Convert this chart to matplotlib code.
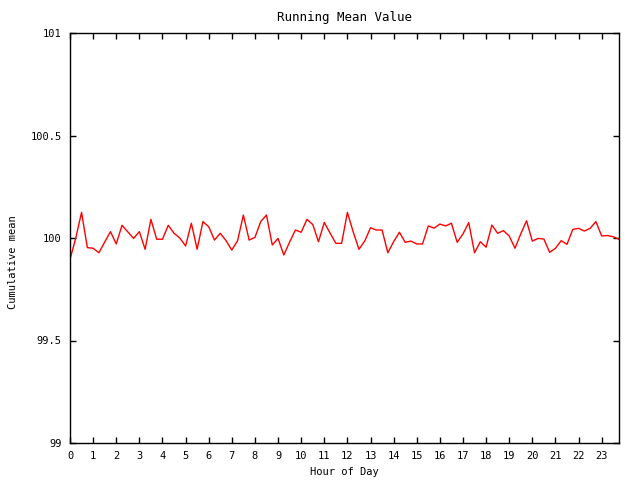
import numpy as np
import matplotlib
matplotlib.use("Agg")
import matplotlib.pyplot as plt

# quarter-hour samples of the running mean
hours = np.arange(96) * 0.25
running_mean = [
    99.896, 100.000, 100.125, 99.953, 99.950, 99.928, 99.980, 100.031,
    99.971, 100.062, 100.030, 99.998, 100.031, 99.945, 100.091, 99.994,
    99.994, 100.062, 100.023, 100.000, 99.961, 100.072, 99.945, 100.080,
    100.055, 99.990, 100.023, 99.987, 99.941, 99.987, 100.112, 99.990,
    100.003, 100.080, 100.112, 99.966, 99.998, 99.917, 99.980, 100.039,
    100.028, 100.091, 100.066, 99.982, 100.076, 100.024, 99.974, 99.974,
    100.125, 100.030, 99.945, 99.985, 100.050, 100.039, 100.039, 99.928,
    99.982, 100.028, 99.979, 99.985, 99.971, 99.971, 100.059, 100.048,
    100.068, 100.059, 100.072, 99.979, 100.020, 100.075, 99.928, 99.982,
    99.955, 100.063, 100.023, 100.036, 100.010, 99.950, 100.020, 100.084,
    99.985, 99.998, 99.995, 99.930, 99.950, 99.987, 99.969, 100.042,
    100.047, 100.034, 100.047, 100.080, 100.010, 100.012, 100.006, 99.994,
]
x_ticks = list(range(24))
y_ticks = [99, 99.5, 100, 100.5, 101]
y_tick_labels = ['99', '99.5', '100', '100.5', '101']

plt.rcParams['font.family'] = ['DejaVu Sans Mono']
plt.rcParams['font.size'] = 7.5

fig = plt.figure(figsize=(6.4, 4.8), dpi=100)
ax = fig.add_axes([70 / 640, 37 / 480, 549 / 640, 410 / 480])

ax.plot(hours, running_mean, color='red', linewidth=1)

ax.set_xlim(0, hours[-1])
ax.set_ylim(99, 101)
ax.set_xticks(x_ticks)
ax.set_yticks(y_ticks)
ax.set_yticklabels(y_tick_labels)
ax.tick_params(direction='in', top=True, right=True, length=4.5, width=1, pad=6)

for spine in ax.spines.values():
    spine.set_linewidth(1)

ax.set_title('Running Mean Value', pad=9)
ax.set_xlabel('Hour of Day', labelpad=4)
ax.set_ylabel('Cumulative mean')
ax.yaxis.set_label_coords(-0.094, 0.44)

fig.savefig('out.png', dpi=100)
